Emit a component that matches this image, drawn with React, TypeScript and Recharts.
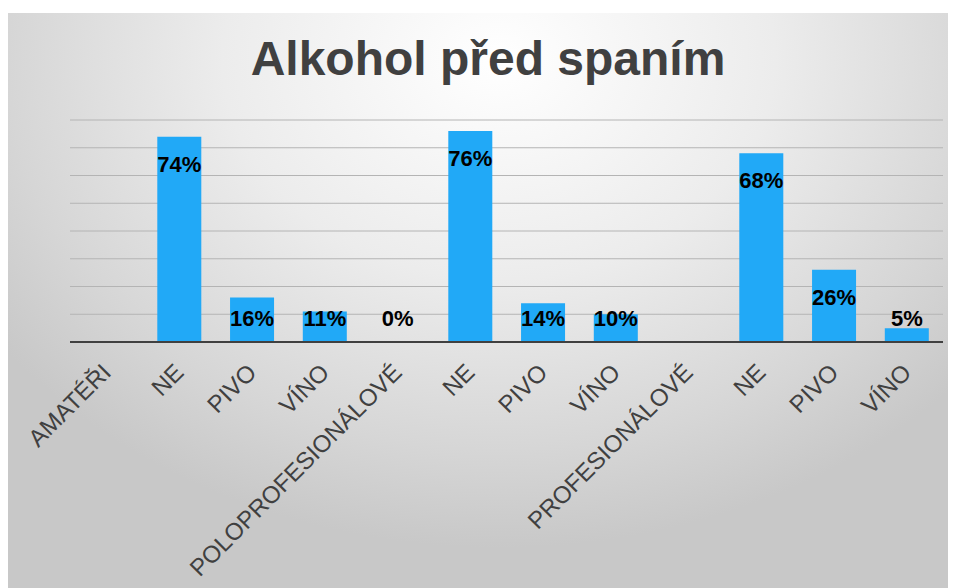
import { BarChart, Bar, XAxis, YAxis, CartesianGrid, LabelList } from 'recharts'

const categories = [
    'AMATÉŘI', 'NE', 'PIVO', 'VÍNO',
    'POLOPROFESIONÁLOVÉ', 'NE', 'PIVO', 'VÍNO',
    'PROFESIONÁLOVÉ', 'NE', 'PIVO', 'VÍNO',
]
const shares: (number | null)[] = [null, 74, 16, 11, 0, 76, 14, 10, null, 68, 26, 5]
const yTicks = [0, 10, 20, 30, 40, 50, 60, 70, 80]

const data = categories.map((name, i) => ({ key: `${name}-${i}`, name, share: shares[i] }))

const FONT = '"Liberation Sans", Arial, sans-serif'

function CategoryTick(props: any) {
    const { x, y, payload } = props
    const name = categories[payload.index] ?? payload.value
    const ax = x + 6
    const ay = y + 32
    return (
        <text
            x={ax}
            y={ay}
            transform={`rotate(-45, ${ax}, ${ay})`}
            textAnchor="end"
            fontSize={24}
            fontFamily={FONT}
            fill="#404040"
        >
            {name}
        </text>
    )
}

function ShareLabel(props: any) {
    const { x, y, width, height, value } = props
    if (value === null || value === undefined) return null
    const base = y + height
    const ty = Math.min(y + 35, base - 16)
    return (
        <text
            x={x + width / 2}
            y={ty}
            textAnchor="middle"
            fontSize={22}
            fontWeight="bold"
            fontFamily={FONT}
            fill="#000000"
        >
            {`${value}%`}
        </text>
    )
}

export default function App() {
    return (
        <div
            style={{
                position: 'relative',
                width: 944,
                height: 575,
                marginTop: 5,
                background:
                    'radial-gradient(ellipse 65% 85% at 52% 8%, #ffffff 0%, #ececec 45%, #d6d6d6 80%, #c8c8c8 100%)',
                fontFamily: FONT,
            }}
        >
            <div
                style={{
                    position: 'absolute',
                    left: 480,
                    top: 22,
                    transform: 'translateX(-50%)',
                    fontSize: 48,
                    lineHeight: '48px',
                    fontWeight: 'bold',
                    color: '#404040',
                    whiteSpace: 'nowrap',
                }}
            >
                Alkohol před spaním
            </div>
            <BarChart
                width={944}
                height={575}
                data={data}
                margin={{ top: 107, right: 9, bottom: 0, left: 62 }}
                barCategoryGap="20%"
                style={{ position: 'absolute', left: 0, top: 0 }}
            >
                <CartesianGrid vertical={false} horizontalValues={yTicks} stroke="#b4b4b4" strokeWidth={1} />
                <XAxis
                    dataKey="key"
                    interval={0}
                    height={246}
                    tick={<CategoryTick />}
                    tickLine={false}
                    tickSize={0}
                    tickMargin={0}
                    axisLine={{ stroke: '#404040', strokeWidth: 2 }}
                />
                <YAxis domain={[0, 80]} ticks={yTicks} hide />
                <Bar
                    dataKey="share"
                    fill="#21A9F7"
                    minPointSize={(v: number) => (v === 0 ? 1 : 0)}
                    isAnimationActive={false}
                >
                    <LabelList dataKey="share" content={<ShareLabel />} />
                </Bar>
            </BarChart>
        </div>
    )
}
